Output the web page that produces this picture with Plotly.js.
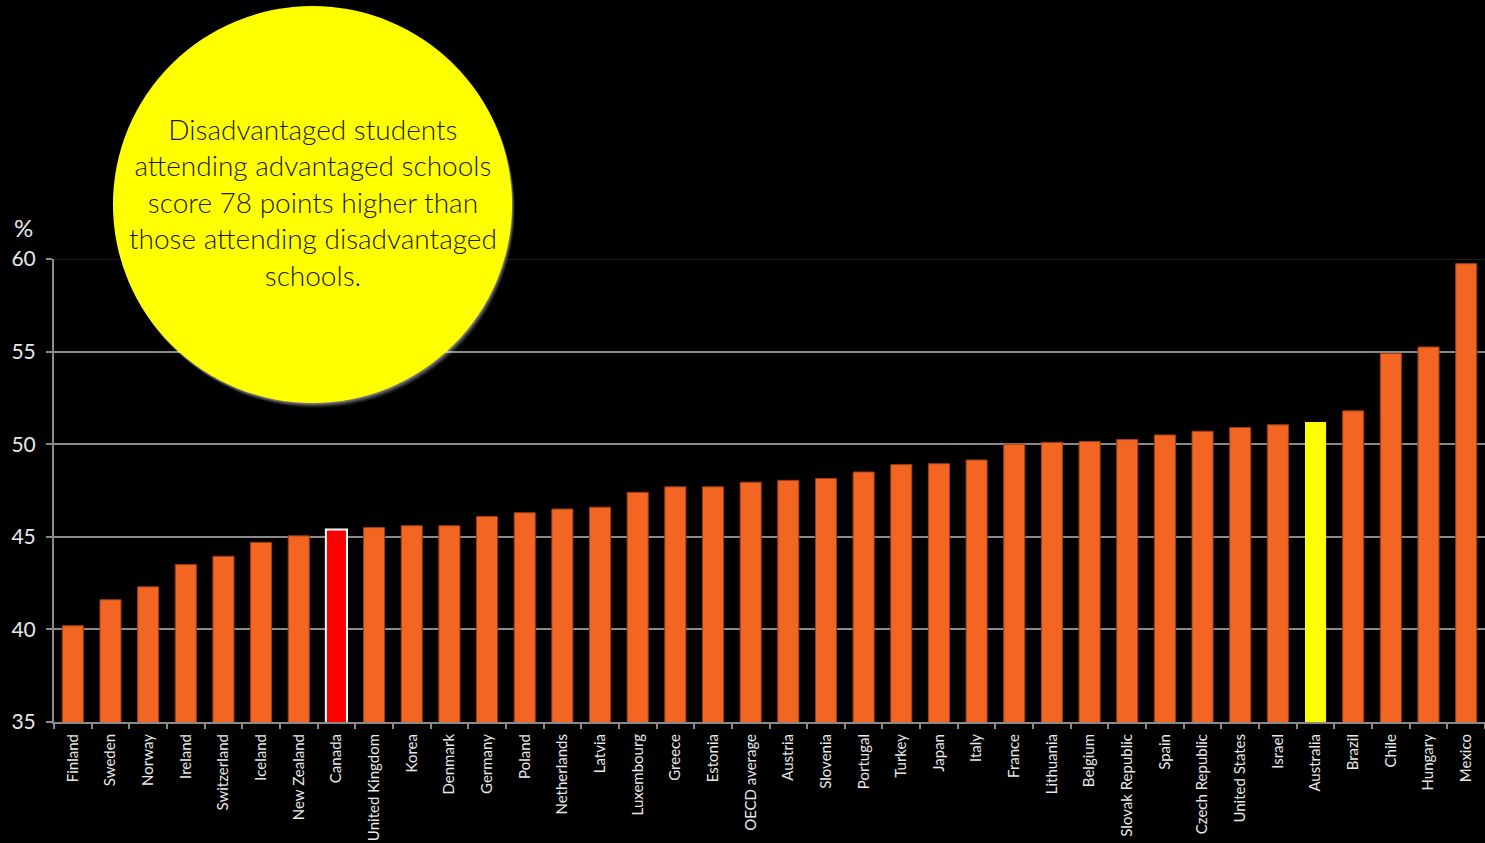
<!DOCTYPE html>
<html>
<head>
<meta charset="utf-8">
<script src="https://cdn.plot.ly/plotly-3.0.1.min.js"></script>
<style>html,body{margin:0;padding:0;background:#000;}#chart{width:1485px;height:843px;}</style>
</head>
<body>
<div id="chart"></div>
<script>
const countries = ["Finland","Sweden","Norway","Ireland","Switzerland","Iceland","New Zealand","Canada","United Kingdom","Korea","Denmark","Germany","Poland","Netherlands","Latvia","Luxembourg","Greece","Estonia","OECD average","Austria","Slovenia","Portugal","Turkey","Japan","Italy","France","Lithuania","Belgium","Slovak Republic","Spain","Czech Republic","United States","Israel","Australia","Brazil","Chile","Hungary","Mexico"];
const values = [40.2,41.6,42.3,43.5,43.95,44.7,45.05,45.4,45.5,45.6,45.6,46.1,46.3,46.5,46.6,47.4,47.7,47.7,47.95,48.05,48.15,48.5,48.9,48.95,49.15,50.0,50.1,50.15,50.25,50.5,50.7,50.9,51.05,51.2,51.8,54.9,55.25,59.75];
const yTicks = [35,40,45,50,55,60];
const calloutText = "Disadvantaged students<br>attending advantaged schools<br>score 78 points higher than<br>those attending disadvantaged<br>schools.";

const highlight = {"Canada":{fill:"#FF0000",line:"#FFFFFF",w:2},"Australia":{fill:"#FFFF00",line:"#FFFF00",w:0}};
const fills = countries.map(c => highlight[c] ? highlight[c].fill : "#F26522");
const lines = countries.map(c => highlight[c] ? highlight[c].line : "#9a3d14");
const widths = countries.map(c => highlight[c] ? highlight[c].w : 1);

const trace = {
  type: "bar", x: countries, y: values,
  marker: {color: fills, line: {color: lines, width: widths}},
  hoverinfo: "x+y"
};

// circle in paper coords
const cx0 = 0.0412, cx1 = 0.3201, cy0 = 0.689, cy1 = 1.5464;
const px = 1/1431, py = 1/463;
const shapes = [
  {type:"line", xref:"paper", yref:"y", x0:0, x1:1, y0:60, y1:60, line:{color:"#1a1a1a", width:2}, layer:"above"}
];
[[5,0.06],[4,0.08],[3,0.12],[2,0.16],[1,0.2]].forEach(([o,a]) => {
  shapes.push({type:"circle", xref:"paper", yref:"paper", x0:cx0+o*px*0.6, x1:cx1+o*px*0.6, y0:cy0-o*py, y1:cy1-o*py,
    fillcolor:"rgba(255,255,255,"+a+")", line:{width:0}, layer:"above"});
});
shapes.push({type:"circle", xref:"paper", yref:"paper", x0:cx0, x1:cx1, y0:cy0, y1:cy1, fillcolor:"#FFFF00", line:{width:0}, layer:"above"});

const layout = {
  width: 1485, height: 843,
  paper_bgcolor: "#000", plot_bgcolor: "#000",
  margin: {l:54, r:0, t:259, b:121, pad:0},
  showlegend: false,
  bargap: 0.44,
  font: {family: "Lato, 'Open Sans', sans-serif", color: "#e8e8e8"},
  xaxis: {
    type: "category", tickangle: -90, tickfont: {size: 15, color: "#e8e8e8"},
    ticks: "outside", tickson: "boundaries", ticklen: 5, tickcolor: "#8a8a8a", tickwidth: 2,
    ticklabelstandoff: 4,
    showline: true, linecolor: "#8a8a8a", linewidth: 2, showgrid: false, automargin: false
  },
  yaxis: {
    range: [35, 60], tickvals: yTicks, ticktext: yTicks.map(String),
    tickfont: {size: 21, color: "#e8e8e8"},
    ticks: "outside", ticklen: 6, tickcolor: "#8a8a8a", tickwidth: 2,
    ticklabelstandoff: 6,
    showline: true, linecolor: "#8a8a8a", linewidth: 2,
    showgrid: true, gridcolor: "#8a8a8a", gridwidth: 2, zeroline: false, automargin: false
  },
  shapes: shapes,
  annotations: [
    {xref:"paper", yref:"paper", x:-0.0214, y:1.067, text:"%", showarrow:false, font:{size:24, color:"#e8e8e8"}, xanchor:"center", yanchor:"middle"},
    {xref:"paper", yref:"paper", x:(cx0+cx1)/2, y:1.1225, text:calloutText, showarrow:false, font:{size:28, color:"#1a1a1a", weight:300}, xanchor:"center", yanchor:"middle", align:"center"}
  ]
};

Plotly.newPlot("chart", [trace], layout, {displayModeBar:false, staticPlot:true});
</script>
</body>
</html>
